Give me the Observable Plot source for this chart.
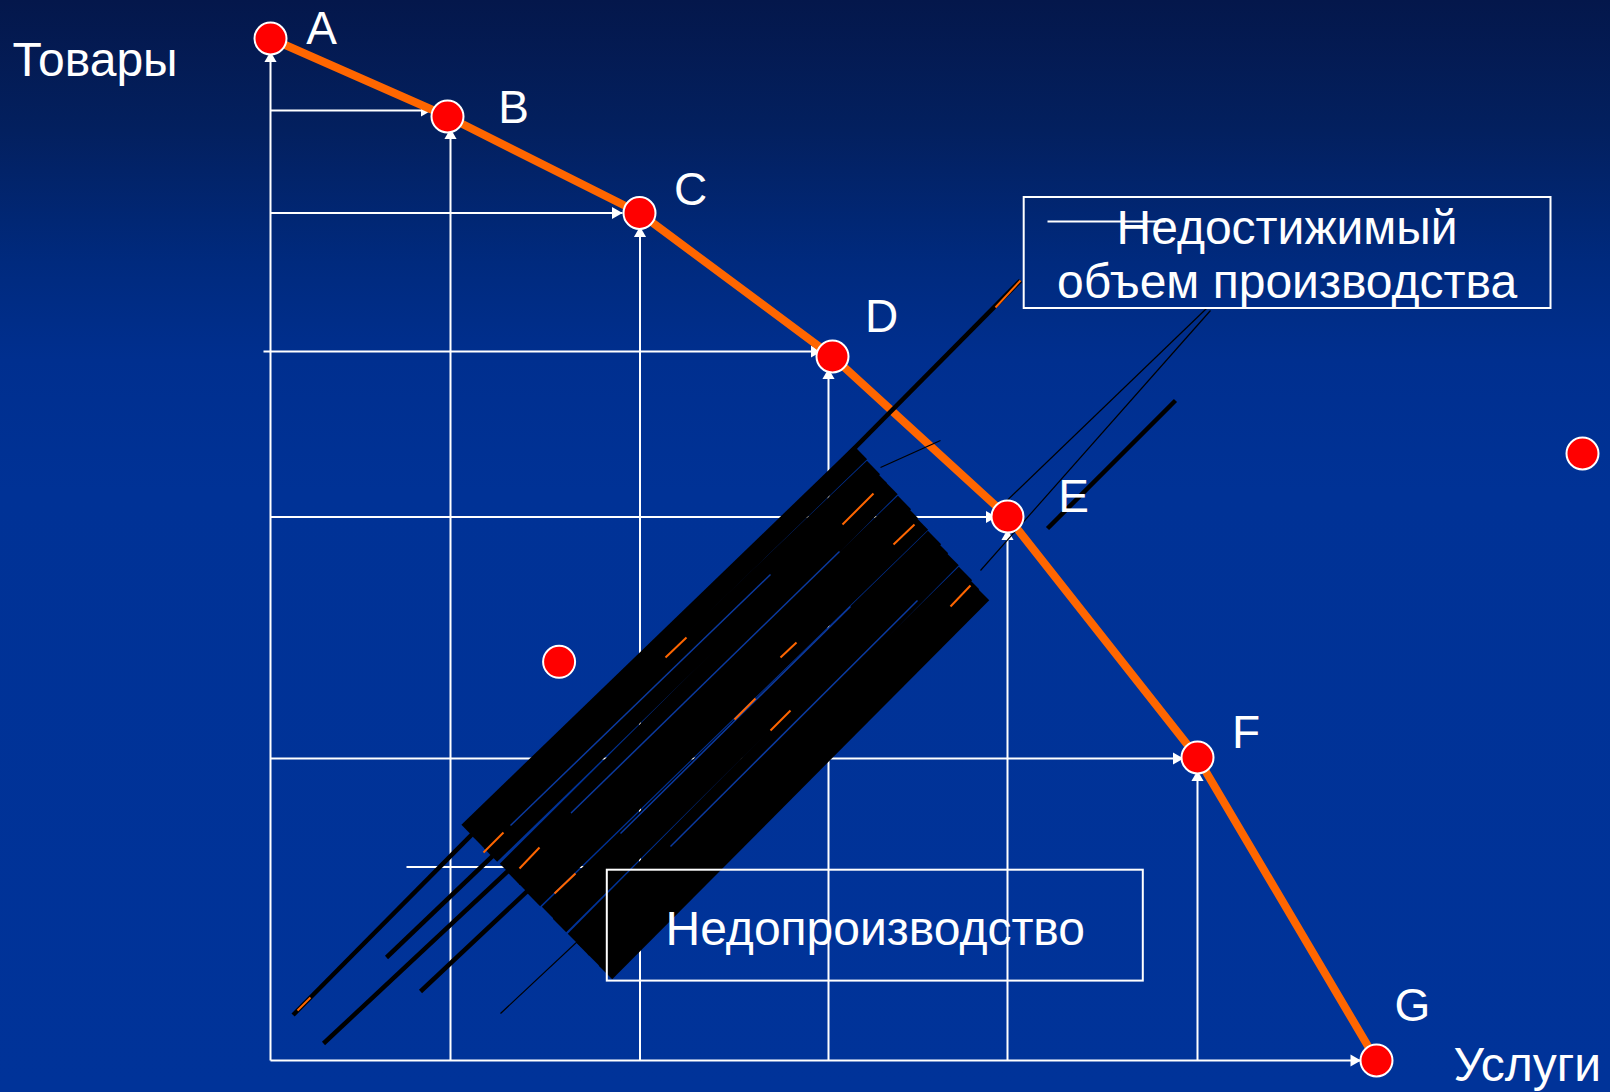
<!DOCTYPE html>
<html><head><meta charset="utf-8">
<script src="https://cdn.jsdelivr.net/npm/d3@7"></script>
<script src="https://cdn.jsdelivr.net/npm/@observablehq/plot@0.6"></script>
<style>
html,body{margin:0;padding:0;width:1610px;height:1092px;overflow:hidden;
background:linear-gradient(180deg,#04174b 0%,#03205f 12%,#002a7e 24%,#002f8f 33%,#003296 45%,#003399 100%);}
#chart svg{display:block}
</style></head><body><div id="chart"></div>
<script>
// Production possibility frontier points
const pointNames = ["A","B","C","D","E","F","G"];
const services = [0, 17.7, 36.9, 56.2, 73.7, 92.7, 110.6];
const goods    = [102.2, 94.4, 84.75, 70.4, 54.4, 30.3, 0];
const labelServices = [5.1, 24.3, 42.0, 61.1, 80.3, 97.55, 114.2];
const labelGoods    = [101.67, 93.75, 85.55, 72.85, 54.85, 31.25, 4.0];

// guide arrows
const vGuideServices = [0, 18.0, 36.95, 55.8, 73.7, 92.7];
const vGuideTop      = [100.9, 93.2, 83.4, 69.2, 53.1, 29.0];
const hGuideGoods    = [95.0, 84.75, 70.9, 54.35, 30.2, 0];
const hGuideStart    = [0, 0, -0.7, 0, 0, 0];
const hGuideEnd      = [16.1, 35.2, 55.1, 72.6, 91.3, 109.05];

// points off the frontier (inside / outside)
const extraServices = [28.86, 131.2];
const extraGoods    = [39.87, 60.7];

// axis titles
const axisTitles = ["Товары", "Услуги"];
const axisTitleServices = [-25.8, 118.3];
const axisTitleGoods    = [98.5, -2.0];

// annotation boxes
const boxText = ["Недостижимый", "объем производства", "Недопроизводство"];
const boxTextServices = [101.66, 101.66, 60.48];
const boxTextGoods    = [81.66, 76.22, 11.53];
const boxX1 = [75.37, 33.68], boxX2 = [128.05, 87.28];
const boxY1 = [75.2, 7.94],   boxY2 = [86.3, 19.03];
const strikeLine = [[77.7, 83.9, 89.5, 83.9]];
const leaderLine = [[13.6, 19.35, 33.7, 19.35]];

// the dark hatched band of "underproduction" strokes [x1,y1,x2,y2]
const bandStrokes = [
  [19.75,22.9,59.0,60.8],[20.9,21.7,60.3,59.3],[22.0,20.55,61.0,58.4],[23.6,19.0,62.05,57.3],
  [24.3,18.2,63.4,55.8],[25.5,17.0,64.1,54.9],[26.3,16.1,65.1,53.75],[27.8,14.7,66.4,52.3],
  [28.9,13.5,67.1,51.4],[30.4,12.0,68.15,50.2],[31.2,11.15,69.5,48.7],[32.35,10.0,70.2,47.8],
  [33.5,8.8,71.2,46.7]
];
const blueSlivers = [
  [29.7,24.4,56.9,50.9],[35.0,22.7,58.0,45.4],[40.0,21.4,64.7,46.0],[24.0,23.5,50.0,48.6]
];
const tailStrokes = [
  [2.26,4.55,75.0,78.0],[5.3,1.7,30.0,24.8],[11.6,10.3,28.0,26.0],[15.0,6.9,30.0,21.0],
  [77.7,53.2,90.5,66.0]
];
const thinStrokes = [
  [72.3,54.7,93.6,75.2],[71.0,49.0,94.0,75.0],[23.0,4.7,34.0,15.0],[61.0,59.3,67.0,62.0]
];
const orangeStrokes = [
  [39.5,40.3,41.6,42.3],[46.4,34.1,48.5,36.2],[51.0,40.3,52.6,41.8],[57.2,53.6,60.3,56.7],
  [62.3,51.6,64.4,53.6],[68.0,45.4,70.0,47.5],[21.3,20.8,23.3,22.8],[24.9,19.2,26.9,21.3],
  [28.4,16.7,30.5,18.7],[2.7,5.0,4.0,6.3],[72.5,75.3,75.0,78.0],[50.0,33.0,52.0,35.0]
];

const pts = pointNames.map((n, i) => ({name: n, x: services[i], y: goods[i], lx: labelServices[i], ly: labelGoods[i]}));
const vert = vGuideServices.map((x, i) => ({x, y1: 0, y2: vGuideTop[i]}));
const horiz = hGuideGoods.map((y, i) => ({y, x1: hGuideStart[i], x2: hGuideEnd[i]}));
const seg = a => a.map(([x1, y1, x2, y2]) => ({x1, y1, x2, y2}));
const extras = extraServices.map((x, i) => ({x, y: extraGoods[i]}));
const titles = axisTitles.map((t, i) => ({t, x: axisTitleServices[i], y: axisTitleGoods[i]}));
const btext = boxText.map((t, i) => ({t, x: boxTextServices[i], y: boxTextGoods[i]}));
const boxes = boxX1.map((x1, i) => ({x1, x2: boxX2[i], y1: boxY1[i], y2: boxY2[i]}));
const L = (data, stroke, w) => Plot.link(seg(data), {x1: "x1", y1: "y1", x2: "x2", y2: "y2", stroke, strokeWidth: w});

const font = "Liberation Sans, Arial, Helvetica, sans-serif";
const chart = Plot.plot({
  width: 1610, height: 1092, margin: 0,
  x: {domain: [-27, 134], axis: null},
  y: {domain: [-3.2, 106], axis: null},
  style: {background: "transparent", overflow: "visible", fontFamily: font},
  marks: [
    Plot.link(vert, {x1: "x", x2: "x", y1: "y1", y2: "y2", stroke: "white", strokeWidth: 2}),
    Plot.link(horiz, {x1: "x1", x2: "x2", y1: "y", y2: "y", stroke: "white", strokeWidth: 2}),
    L(leaderLine, "white", 2),
    Plot.dot(vert, {x: "x", y: "y2", symbol: "triangle", r: 4.5, fill: "white", stroke: null, dy: 7}),
    Plot.dot(horiz, {x: "x2", y: "y", symbol: "triangle", r: 4.5, fill: "white", stroke: null, rotate: 90, dx: -7}),
    Plot.line(pts, {x: "x", y: "y", stroke: "#ff6600", strokeWidth: 8}),
    L(bandStrokes, "black", 19),
    L(blueSlivers, "#0b3aa0", 1.5),
    L(tailStrokes, "black", 4.5),
    L(thinStrokes, "black", 1.2),
    L(orangeStrokes, "#ff6600", 2),
    Plot.rect(boxes, {x1: "x1", x2: "x2", y1: "y1", y2: "y2", fill: "none", stroke: "white", strokeWidth: 2}),
    L(strikeLine, "white", 2),
    Plot.text(btext, {x: "x", y: "y", text: "t", fill: "white", fontSize: 48, lineAnchor: "bottom", textAnchor: "middle"}),
    Plot.text(titles, {x: "x", y: "y", text: "t", fill: "white", fontSize: 48, lineAnchor: "bottom", textAnchor: "start"}),
    Plot.text(pts, {x: "lx", y: "ly", text: "name", fill: "white", fontSize: 46, lineAnchor: "bottom", textAnchor: "middle"}),
    Plot.dot(pts, {x: "x", y: "y", r: 16, fill: "#ff0000", stroke: "white", strokeWidth: 2}),
    Plot.dot(extras, {x: "x", y: "y", r: 16, fill: "#ff0000", stroke: "white", strokeWidth: 2})
  ]
});
document.getElementById("chart").append(chart);
</script></body></html>
